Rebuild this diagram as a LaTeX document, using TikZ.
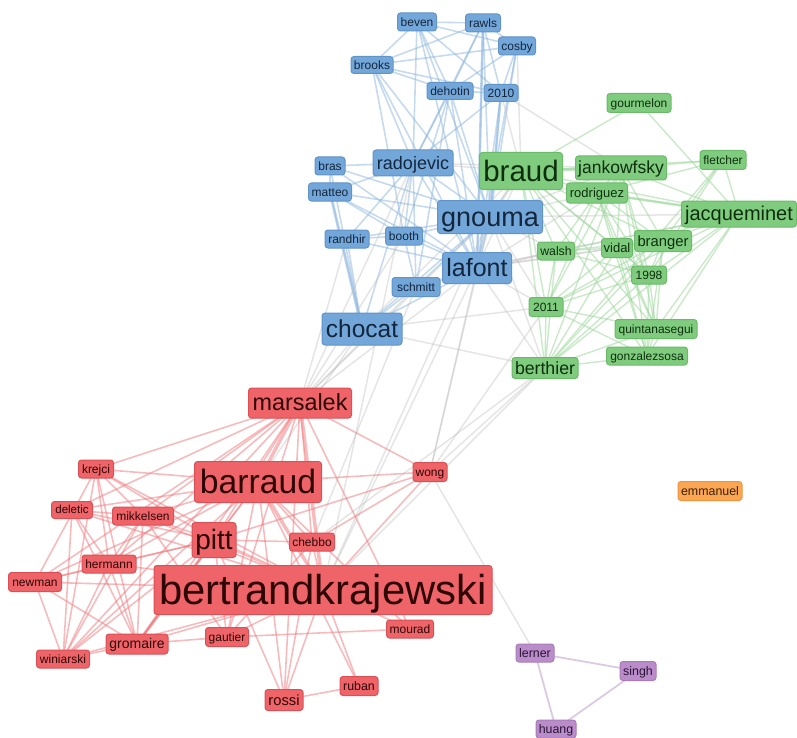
\documentclass[tikz,border=0pt]{standalone}
\usepackage{fontspec}
\setmainfont{Liberation Sans}
\usetikzlibrary{backgrounds}
\newcommand\myfs[1]{\fontsize{#1}{#1}\selectfont}
\definecolor{bfill}{HTML}{74A7D9}\definecolor{bdraw}{HTML}{6094C9}\definecolor{btext}{HTML}{14263C}
\definecolor{gfill}{HTML}{80CC7F}\definecolor{gdraw}{HTML}{6ABA69}\definecolor{gtext}{HTML}{0E2E0E}
\definecolor{rfill}{HTML}{EE6468}\definecolor{rdraw}{HTML}{DA5055}\definecolor{rtext}{HTML}{2E0606}
\definecolor{pfill}{HTML}{BA8DCA}\definecolor{pdraw}{HTML}{A77BB9}\definecolor{ptext}{HTML}{2A1436}
\definecolor{ofill}{HTML}{FBA652}\definecolor{odraw}{HTML}{EE9540}\definecolor{otext}{HTML}{3A2008}
\definecolor{bedge}{HTML}{8DB5DE}\definecolor{gedge}{HTML}{9ED79D}\definecolor{redge}{HTML}{F0787C}
\definecolor{xedge}{HTML}{BDBDBD}\definecolor{pedge}{HTML}{D3BCDC}
\tikzset{
  box/.style={rounded corners=3pt, line width=1pt, inner sep=0pt, align=center},
  bn/.style={box, fill=bfill, draw=bdraw, text=btext},
  gn/.style={box, fill=gfill, draw=gdraw, text=gtext},
  rn/.style={box, fill=rfill, draw=rdraw, text=rtext},
  pn/.style={box, fill=pfill, draw=pdraw, text=ptext},
  on/.style={box, fill=ofill, draw=odraw, text=otext},
  fz/.style={font=\myfs{#1}, text height={0.7*#1}, text depth={0.02*#1}},
  sz/.style 2 args={minimum width=#1, minimum height=#2},
  be/.style={draw=bedge, line width=1.6pt, opacity=0.5},
  ge/.style={draw=gedge, line width=1.4pt, opacity=0.55},
  re/.style={draw=redge, line width=1.6pt, opacity=0.5},
  xe/.style={draw=xedge, line width=1.5pt, opacity=0.4},
  pe/.style={draw=pedge, line width=1.8pt, opacity=0.8},
}
\begin{document}
\begin{tikzpicture}[x=1pt,y=-1pt]
\path[use as bounding box] (0,0) rectangle (797,738);
% ---- blue
\node[bn, sz={39pt}{18pt}, fz=12] (beven) at (417,22) {beven};
\node[bn, sz={35pt}{18pt}, fz=12] (rawls) at (483,23) {rawls};
\node[bn, sz={37pt}{18pt}, fz=12] (cosby) at (517,46) {cosby};
\node[bn, sz={42pt}{17pt}, fz=12] (brooks) at (372,65) {brooks};
\node[bn, sz={46pt}{17pt}, fz=12] (dehotin) at (450,91) {dehotin};
\node[bn, sz={34pt}{17pt}, fz=12] (y2010) at (501,93) {2010};
\node[bn, sz={30pt}{18pt}, fz=12] (bras) at (330,166) {bras};
\node[bn, sz={80pt}{26pt}, fz=18] (radojevic) at (413,163) {radojevic};
\node[bn, sz={43pt}{18pt}, fz=12] (matteo) at (330,192) {matteo};
\node[bn, sz={105pt}{33pt}, fz=27] (gnouma) at (490,217) {gnouma};
\node[bn, sz={44pt}{18pt}, fz=12] (randhir) at (347,239) {randhir};
\node[bn, sz={37pt}{18pt}, fz=12] (booth) at (404,236) {booth};
\node[bn, sz={69pt}{31pt}, fz=25] (lafont) at (477,268) {lafont};
\node[bn, sz={48pt}{19pt}, fz=12] (schmitt) at (416,287) {schmitt};
\node[bn, sz={80pt}{32pt}, fz=24.5] (chocat) at (362,329) {chocat};
% ---- green
\node[gn, sz={64pt}{19pt}, fz=12] (gourmelon) at (639,103) {gourmelon};
\node[gn, sz={83pt}{37pt}, fz=29.5] (braud) at (521,171) {braud};
\node[gn, sz={91pt}{24pt}, fz=17.5] (jankowfsky) at (621,168) {jankowfsky};
\node[gn, sz={46pt}{19pt}, fz=12] (fletcher) at (723,160) {fletcher};
\node[gn, sz={61pt}{20pt}, fz=13] (rodriguez) at (597,193) {rodriguez};
\node[gn, sz={115pt}{26pt}, fz=20] (jacqueminet) at (739,214) {jacqueminet};
\node[gn, sz={37pt}{18pt}, fz=12.3] (walsh) at (556,251) {walsh};
\node[gn, sz={31pt}{19pt}, fz=13] (vidal) at (617,248) {vidal};
\node[gn, sz={57pt}{21pt}, fz=14.8] (branger) at (663,241) {branger};
\node[gn, sz={35pt}{18pt}, fz=12] (y1998) at (649,275) {1998};
\node[gn, sz={34pt}{19pt}, fz=12] (y2011) at (546,307) {2011};
\node[gn, sz={82pt}{19pt}, fz=12] (quintanasegui) at (656,329) {quintanasegui};
\node[gn, sz={81pt}{18pt}, fz=12] (gonzalezsosa) at (647,356) {gonzalezsosa};
\node[gn, sz={66pt}{21pt}, fz=17.7] (berthier) at (545,368) {berthier};
% ---- red
\node[rn, sz={103pt}{30pt}, fz=23.4] (marsalek) at (300,403) {marsalek};
\node[rn, sz={35pt}{18pt}, fz=12] (krejci) at (96,469) {krejci};
\node[rn, sz={127pt}{41pt}, fz=33.7] (barraud) at (258,482) {barraud};
\node[rn, sz={34pt}{19pt}, fz=12] (wong) at (430,472) {wong};
\node[rn, sz={41pt}{17pt}, fz=11.5] (deletic) at (72,510) {deletic};
\node[rn, sz={61pt}{18pt}, fz=12] (mikkelsen) at (143,516) {mikkelsen};
\node[rn, sz={44pt}{35pt}, fz=28] (pitt) at (214,540) {pitt};
\node[rn, sz={45pt}{18pt}, fz=12] (chebbo) at (312,542) {chebbo};
\node[rn, sz={54pt}{18pt}, fz=12] (hermann) at (109,564) {hermann};
\node[rn, sz={53pt}{19pt}, fz=12] (newman) at (35,582) {newman};
\node[rn, sz={338pt}{49pt}, fz=41.8] (bertrandkrajewski) at (323,590) {bertrandkrajewski};
\node[rn, sz={47pt}{18pt}, fz=12] (mourad) at (410,629) {mourad};
\node[rn, sz={43pt}{19pt}, fz=12] (gautier) at (227,637) {gautier};
\node[rn, sz={62pt}{20pt}, fz=14] (gromaire) at (137,644) {gromaire};
\node[rn, sz={53pt}{18pt}, fz=12] (winiarski) at (63,659) {winiarski};
\node[rn, sz={38pt}{19pt}, fz=12.4] (ruban) at (359,686) {ruban};
\node[rn, sz={38pt}{21pt}, fz=14.7] (rossi) at (284,700) {rossi};
% ---- purple, orange
\node[pn, sz={38pt}{18pt}, fz=12.4] (lerner) at (535,653) {lerner};
\node[pn, sz={36pt}{19pt}, fz=12.4] (singh) at (638,671) {singh};
\node[pn, sz={40pt}{18pt}, fz=12.4] (huang) at (556,729) {huang};
\node[on, sz={64pt}{19pt}, fz=12.4] (emmanuel) at (710,491) {emmanuel};
% ---- edges
\begin{pgfonlayer}{background}
\foreach \a/\b in {beven/rawls,beven/cosby,beven/brooks,beven/dehotin,beven/y2010,beven/gnouma,beven/lafont,beven/radojevic,
 rawls/cosby,rawls/brooks,rawls/dehotin,rawls/y2010,rawls/gnouma,rawls/lafont,rawls/radojevic,
 cosby/brooks,cosby/dehotin,cosby/y2010,cosby/gnouma,cosby/lafont,
 brooks/dehotin,brooks/y2010,brooks/gnouma,brooks/lafont,brooks/radojevic,brooks/booth,
 dehotin/y2010,dehotin/gnouma,dehotin/lafont,dehotin/radojevic,dehotin/booth,dehotin/schmitt,
 y2010/gnouma,y2010/lafont,y2010/radojevic,
 bras/radojevic,bras/matteo,bras/gnouma,bras/chocat,bras/lafont,
 matteo/radojevic,matteo/gnouma,matteo/chocat,matteo/lafont,matteo/booth,
 radojevic/gnouma,radojevic/lafont,radojevic/booth,radojevic/randhir,radojevic/schmitt,radojevic/chocat,
 randhir/booth,randhir/gnouma,randhir/lafont,randhir/chocat,
 booth/gnouma,booth/lafont,booth/schmitt,
 gnouma/chocat,gnouma/schmitt,lafont/schmitt,lafont/chocat,schmitt/chocat}
 \draw[be] (\a.center) -- (\b.center);
\draw[be, line width=3pt] (gnouma.center) -- (lafont.center);
\draw[be, line width=3pt] (matteo.center) -- (chocat.center);
\draw[be, line width=2.6pt] (y2010.center) -- (gnouma.center);
\draw[be, line width=2.6pt] (rawls.center) -- (lafont.center);
\foreach \a/\b in {braud/jankowfsky,braud/rodriguez,braud/jacqueminet,braud/fletcher,braud/gourmelon,braud/vidal,braud/branger,braud/walsh,braud/y1998,braud/y2011,braud/quintanasegui,braud/gonzalezsosa,braud/berthier,
 jankowfsky/fletcher,jankowfsky/jacqueminet,jankowfsky/rodriguez,jankowfsky/branger,jankowfsky/vidal,jankowfsky/y1998,jankowfsky/quintanasegui,jankowfsky/gonzalezsosa,jankowfsky/y2011,jankowfsky/berthier,
 gourmelon/jacqueminet,fletcher/jacqueminet,fletcher/branger,fletcher/y1998,fletcher/rodriguez,fletcher/berthier,
 rodriguez/jacqueminet,rodriguez/vidal,rodriguez/branger,rodriguez/y1998,rodriguez/walsh,rodriguez/y2011,rodriguez/quintanasegui,rodriguez/gonzalezsosa,
 jacqueminet/branger,jacqueminet/vidal,jacqueminet/walsh,jacqueminet/y1998,jacqueminet/y2011,jacqueminet/quintanasegui,jacqueminet/gonzalezsosa,jacqueminet/berthier,
 walsh/vidal,walsh/branger,walsh/y2011,walsh/berthier,walsh/y1998,
 vidal/branger,vidal/y1998,vidal/y2011,vidal/quintanasegui,vidal/gonzalezsosa,vidal/berthier,
 branger/y1998,branger/y2011,branger/quintanasegui,branger/gonzalezsosa,branger/berthier,
 y1998/y2011,y1998/quintanasegui,y1998/gonzalezsosa,y1998/berthier,
 y2011/quintanasegui,y2011/gonzalezsosa,y2011/berthier,
 quintanasegui/gonzalezsosa,quintanasegui/berthier,gonzalezsosa/berthier}
 \draw[ge] (\a.center) -- (\b.center);
\draw[ge, line width=3pt] (braud.center) -- (jankowfsky.center);
\draw[ge, line width=2.6pt] (rodriguez.center) -- (jacqueminet.center);
\foreach \a/\b in {braud/gnouma,braud/lafont,braud/radojevic,braud/chocat,cosby/braud,y2010/braud,y2010/jankowfsky,
 gnouma/jankowfsky,gnouma/jacqueminet,gnouma/walsh,gnouma/y2011,gnouma/berthier,gnouma/rodriguez,
 lafont/walsh,lafont/y2011,lafont/berthier,lafont/vidal,lafont/jacqueminet,lafont/branger,lafont/rodriguez,
 chocat/berthier,chocat/y2011,radojevic/jankowfsky,schmitt/walsh,
 marsalek/chocat,marsalek/lafont,marsalek/gnouma,marsalek/schmitt,marsalek/radojevic,marsalek/randhir,marsalek/booth,
 bertrandkrajewski/lafont,bertrandkrajewski/gnouma,bertrandkrajewski/berthier,bertrandkrajewski/radojevic,chebbo/schmitt,
 wong/lafont,wong/gnouma,wong/berthier,wong/y2011,wong/lerner,chebbo/berthier,barraud/chocat}
 \draw[xe] (\a.center) -- (\b.center);
\draw[xe, line width=3pt] (braud.center) -- (gnouma.center);
\foreach \a/\b in {marsalek/pitt,marsalek/krejci,marsalek/wong,marsalek/chebbo,marsalek/gromaire,marsalek/winiarski,marsalek/deletic,marsalek/mikkelsen,marsalek/hermann,marsalek/gautier,marsalek/rossi,marsalek/mourad,marsalek/newman,
 barraud/pitt,barraud/krejci,barraud/deletic,barraud/mikkelsen,barraud/hermann,barraud/newman,barraud/gromaire,barraud/winiarski,barraud/chebbo,barraud/gautier,barraud/rossi,barraud/mourad,barraud/wong,barraud/ruban,
 pitt/krejci,pitt/deletic,pitt/mikkelsen,pitt/hermann,pitt/newman,pitt/gromaire,pitt/winiarski,pitt/chebbo,pitt/gautier,pitt/rossi,pitt/wong,
 bertrandkrajewski/krejci,bertrandkrajewski/deletic,bertrandkrajewski/mikkelsen,bertrandkrajewski/hermann,bertrandkrajewski/newman,bertrandkrajewski/gromaire,bertrandkrajewski/winiarski,bertrandkrajewski/chebbo,bertrandkrajewski/gautier,bertrandkrajewski/rossi,bertrandkrajewski/mourad,bertrandkrajewski/wong,bertrandkrajewski/ruban,
 krejci/mikkelsen,krejci/hermann,krejci/gromaire,krejci/winiarski,krejci/newman,
 deletic/mikkelsen,deletic/hermann,deletic/winiarski,deletic/gromaire,
 mikkelsen/hermann,mikkelsen/gromaire,mikkelsen/winiarski,mikkelsen/gautier,
 hermann/newman,hermann/gromaire,hermann/winiarski,newman/winiarski,newman/gromaire,
 gromaire/winiarski,gromaire/gautier,gautier/mourad,gautier/chebbo,chebbo/wong,chebbo/rossi,rossi/ruban}
 \draw[re] (\a.center) -- (\b.center);
\draw[re, line width=3.5pt] (marsalek.center) -- (barraud.center);
\draw[re, line width=3.5pt] (marsalek.center) -- (bertrandkrajewski.center);
\draw[re, line width=3.5pt] (barraud.center) -- (bertrandkrajewski.center);
\draw[re, line width=3pt] (pitt.center) -- (bertrandkrajewski.center);
\draw[re, line width=3pt] (gromaire.center) -- (pitt.center);
\foreach \a/\b in {lerner/singh,lerner/huang,singh/huang}
 \draw[pe] (\a.center) -- (\b.center);
\end{pgfonlayer}
\end{tikzpicture}
\end{document}
